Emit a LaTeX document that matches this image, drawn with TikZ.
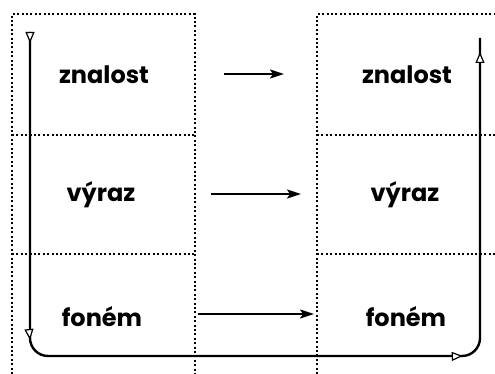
\documentclass[tikz,border=0pt]{standalone}
\usepackage{fontspec}
\setmainfont{Poppins}
\usetikzlibrary{arrows.meta, decorations.markings}
\tikzset{opentip/.tip={Triangle[open, length=11pt, width=9pt, fill=white, line width=1.2pt]}}

\begin{document}
\begin{tikzpicture}[x=1pt, y=-1pt,
grid/.style={line width=2pt, dash pattern=on 2pt off 2.4pt},
word/.style={font=\fontsize{24}{26}\selectfont\bfseries},
link/.style={line width=2pt, -{Stealth[length=14pt, width=9pt, inset=3pt]}},
cycle/.style={line width=2.4pt, rounded corners=18pt, postaction={decorate},
  decoration={markings,
    mark=at position 11pt with {\arrow{opentip}},
    mark=at position 308pt with {\arrow{opentip}},
    mark=at position 749pt with {\arrow{opentip}},
    mark=at position -14pt with {\arrow{opentip}}}}]
\useasboundingbox (0,0) rectangle (495,374);
% left column
\begin{scope}
\draw [grid] (12,374) -- (12,14) -- (195,14) -- (195,374);
\draw [grid] (12,135) -- (195,135);
\draw [grid] (12,254) -- (195,254);
\node [word] (zl) at (104,75) {znalost};
\node [word] (vl) at (101,195) {výraz};
\node [word] (fl) at (102,317) {foném};
\end{scope}
% right column
\begin{scope}
\draw [grid] (317,374) -- (317,14) -- (495,14);
\draw [grid] (317,135) -- (495,135);
\draw [grid] (317,254) -- (495,254);
\node [word] (zr) at (407,75) {znalost};
\node [word] (vr) at (405,195) {výraz};
\node [word] (fr) at (406,317) {foném};
\end{scope}
% transfer arrows
\coordinate (z1) at (224,74);
\coordinate (z2) at (284,74);
\coordinate (v1) at (211,194);
\coordinate (v2) at (301,194);
\coordinate (f1) at (198,314);
\coordinate (f2) at (314,314);
\draw [link] (z1) -- (z2);
\draw [link] (v1) -- (v2);
\draw [link] (f1) -- (f2);
% round trip
\coordinate (start) at (30,32);
\coordinate (turn1) at (30,356);
\coordinate (turn2) at (480,356);
\coordinate (stop) at (480,38);
\draw [cycle] (start) -- (turn1) -- (turn2) -- (stop);
\end{tikzpicture}
\end{document}
